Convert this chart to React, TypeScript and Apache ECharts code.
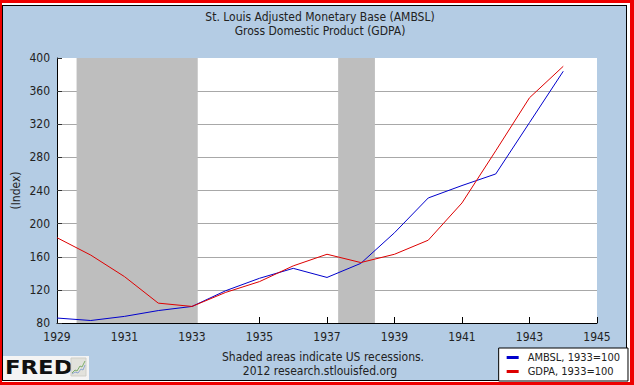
import React, { useEffect, useRef } from "react";
import * as echarts from "echarts";

const years = [1929, 1930, 1931, 1932, 1933, 1934, 1935, 1936, 1937, 1938, 1939, 1940, 1941, 1942, 1943, 1944];
const ambsl = [86, 83, 88, 95, 100, 119, 134, 146, 135, 152, 189, 231, 246, 260, 322, 384];
const gdpa = [183, 162, 136, 104, 100, 117, 130, 149, 163, 153, 163, 180, 225, 288, 352, 390];
const recessions = [
  [1929.58, 1933.17],
  [1937.33, 1938.42],
];
const titleLines = ["St. Louis Adjusted Monetary Base (AMBSL)", "Gross Domestic Product (GDPA)"];
const footLines = ["Shaded areas indicate US recessions.", "2012 research.stlouisfed.org"];
const seriesNames = ["AMBSL, 1933=100", "GDPA, 1933=100"];
const xRange = { min: 1929, max: 1945, interval: 2 };
const yRange = { min: 80, max: 400, interval: 40 };

const FONT = "'DejaVu Sans Condensed', 'DejaVu Sans', sans-serif";

export default function App() {
  const ref = useRef<HTMLDivElement>(null);
  useEffect(() => {
    if (!ref.current) return;
    const chart = echarts.init(ref.current, undefined, { renderer: "svg" });
    const pairs = (vals: number[]) => years.map((y, i) => [y, vals[i]]);
    chart.setOption({
      animation: false,
      textStyle: { fontFamily: FONT },
      grid: {
        left: 57,
        right: 37,
        top: 58,
        bottom: 62,
        show: true,
        backgroundColor: "#ffffff",
        borderWidth: 0,
        containLabel: false,
        outerBoundsMode: "none",
      },
      xAxis: {
        type: "value",
        min: xRange.min,
        max: xRange.max,
        interval: xRange.interval,
        axisLine: { show: true, lineStyle: { color: "#000", width: 1 } },
        axisTick: { show: true, inside: true, length: 6, lineStyle: { color: "#000" } },
        splitLine: { show: false },
        axisLabel: { color: "#222", fontSize: 12, margin: 8, fontFamily: FONT, formatter: (v: number) => String(v) },
      },
      yAxis: {
        type: "value",
        min: yRange.min,
        max: yRange.max,
        interval: yRange.interval,
        name: "(Index)",
        nameLocation: "middle",
        nameRotate: 90,
        nameGap: 35,
        nameMoveOverlap: false,
        nameTextStyle: { color: "#222", fontSize: 12, fontFamily: FONT },
        axisLine: { show: true, lineStyle: { color: "#000", width: 1 } },
        axisTick: { show: true, inside: true, length: 5, lineStyle: { color: "#333" } },
        splitLine: { show: true, showMinLine: false, showMaxLine: false, lineStyle: { color: "#a8a8a8", width: 1 } },
        axisLabel: { color: "#222", fontSize: 12, margin: 7, fontFamily: FONT },
      },
      legend: {
        data: seriesNames,
        orient: "vertical",
        right: 6,
        bottom: 4,
        backgroundColor: "#ffffff",
        borderColor: "#000",
        borderWidth: 1,
        borderRadius: 0,
        padding: [4, 8, 4, 8],
        itemGap: 3,
        itemWidth: 12,
        itemHeight: 3,
        icon: "rect",
        textStyle: { color: "#222", fontSize: 11, fontFamily: FONT, padding: [0, 0, 0, 4] },
      },
      series: [
        {
          type: "line",
          name: "recessions",
          data: [],
          z: 1,
          silent: true,
          markArea: {
            silent: true,
            itemStyle: { color: "#bebebe", opacity: 1 },
            data: recessions.map(([a, b]) => [{ xAxis: a }, { xAxis: b }]),
          },
        },
        {
          type: "line",
          name: seriesNames[0],
          data: pairs(ambsl),
          z: 3,
          symbol: "none",
          lineStyle: { color: "#0000cc", width: 1 },
          itemStyle: { color: "#0000cc" },
        },
        {
          type: "line",
          name: seriesNames[1],
          data: pairs(gdpa),
          z: 4,
          symbol: "none",
          lineStyle: { color: "#dd0000", width: 1 },
          itemStyle: { color: "#dd0000" },
        },
      ],
      graphic: [
        {
          type: "text",
          x: 320,
          y: 16.5,
          style: { text: titleLines[0], fill: "#222", font: `12px ${FONT}`, textAlign: "center", textVerticalAlign: "middle" },
        },
        {
          type: "text",
          x: 320,
          y: 31,
          style: { text: titleLines[1], fill: "#222", font: `12px ${FONT}`, textAlign: "center", textVerticalAlign: "middle" },
        },
        {
          type: "text",
          x: 323,
          y: 356.5,
          style: { text: footLines[0], fill: "#222", font: `12px ${FONT}`, textAlign: "center", textVerticalAlign: "middle" },
        },
        {
          type: "text",
          x: 320,
          y: 371,
          style: { text: footLines[1], fill: "#222", font: `12px ${FONT}`, textAlign: "center", textVerticalAlign: "middle" },
        },
        { type: "rect", shape: { x: 3, y: 356, width: 86, height: 24 }, style: { fill: "#f4f4f4" } },
        {
          type: "text",
          x: 5,
          y: 367.5,
          scaleX: 1.2,
          style: { text: "FRED", fill: "#111", font: `900 19px 'DejaVu Sans', sans-serif`, textVerticalAlign: "middle" },
        },
        { type: "rect", shape: { x: 71, y: 358, width: 15, height: 18 }, style: { fill: "#e2e2dc", stroke: "#cfcfc8", lineWidth: 1 } },
        {
          type: "polyline",
          shape: { points: [[72, 373], [75, 370], [77, 371], [80, 366], [82, 367], [85, 361]] },
          style: { stroke: "#7fae6a", lineWidth: 1, fill: "none" },
        },
        {
          type: "polyline",
          shape: { points: [[72, 374], [75, 372], [78, 373], [81, 369], [83, 370], [85, 365]] },
          style: { stroke: "#8fa8d0", lineWidth: 1, fill: "none" },
        },
      ],
    });
    return () => chart.dispose();
  }, []);

  return (
    <div style={{ position: "absolute", left: 0, top: 0, width: 634, height: 385, background: "#ee0000" }}>
      <div style={{ position: "absolute", left: 2, top: 3, width: 628, height: 379, background: "#ffffff" }}>
        <div
          style={{
            position: "absolute",
            left: 0,
            top: 2,
            width: 625,
            height: 376,
            boxSizing: "border-box",
            border: "1px solid #000",
            background: "#b4cce4",
          }}
        />
      </div>
      <div ref={ref} style={{ position: "absolute", left: 0, top: 0, width: 634, height: 385 }} />
    </div>
  );
}
